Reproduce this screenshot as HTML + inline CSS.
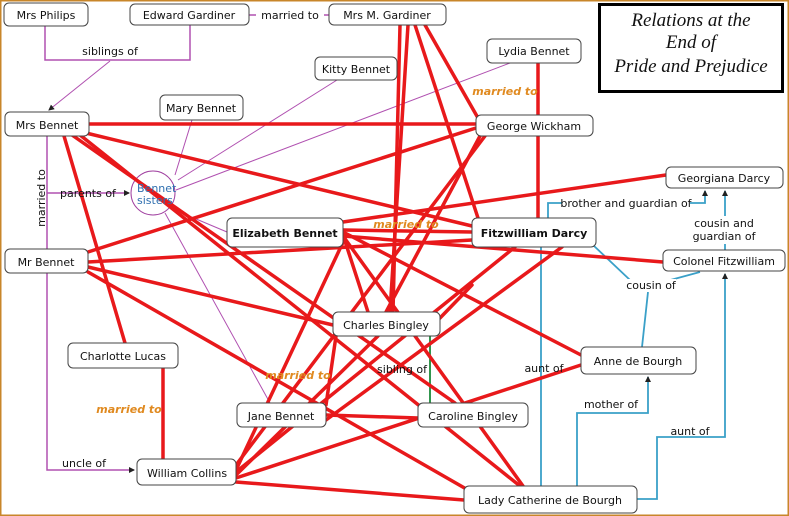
<!DOCTYPE html>
<html><head><meta charset="utf-8"><style>
body{margin:0;background:#fff}
svg{display:block}
text{font-family:"DejaVu Sans","Liberation Sans",sans-serif;font-size:11px;fill:#111}
.n{fill:#fff;stroke:#444;stroke-width:1}
.r{stroke:#e8191b;stroke-width:3.5;fill:none;stroke-linecap:round}
.p{stroke:#b050b0;stroke-width:1.5;fill:none}
.pt{stroke:#b050b0;stroke-width:1;fill:none}
.t{stroke:#3aa0c8;stroke-width:1.8;fill:none}
.m{font-weight:bold;font-style:italic;fill:#e08a20;font-size:11px}
</style></head><body>
<svg width="789" height="516" viewBox="0 0 789 516" xmlns="http://www.w3.org/2000/svg">
<defs>
<marker id="a" markerWidth="6" markerHeight="6" refX="5" refY="3" orient="auto" markerUnits="userSpaceOnUse"><path d="M0 0L6 3L0 6z" fill="#222"/></marker>
</defs>
<rect x="0.5" y="0.5" width="788" height="515" fill="#fff" stroke="#c8862a" stroke-width="2"/>
<!-- purple -->
<path class="p" d="M45 25V60H190V25"/>
<path class="pt" d="M110 61L49 110" marker-end="url(#a)"/>
<line class="p" x1="249" y1="15" x2="329" y2="15"/>
<path class="p" d="M47 136V249M47 273V470H134" marker-end="url(#a)"/>
<path class="p" d="M47 193H129" marker-end="url(#a)"/>
<path class="pt" d="M175 175L192 120M178 180L337 80M176 190L510 63M170 208L227 232M165 213L270 403"/>
<circle cx="153" cy="193" r="22" fill="none" stroke="#a040a0" stroke-width="1"/>
<!-- teal -->
<path class="t" d="M548 218V203H705V191" marker-end="url(#a)"/>
<path class="t" d="M725 250V191" marker-end="url(#a)"/>
<path class="t" d="M593 245L630 280M652 285L700 272M642 347L648 292M541 486V247"/>
<path class="t" d="M577 486V413H648V377" marker-end="url(#a)"/>
<path class="t" d="M637 499H657V437H725V274" marker-end="url(#a)"/>
<!-- green -->
<line x1="430" y1="336" x2="430" y2="403" stroke="#1a8a3a" stroke-width="1.8"/>
<!-- red -->
<g class="r">
<line x1="89" y1="124" x2="476" y2="124"/>
<line x1="86" y1="133" x2="472" y2="226"/>
<line x1="64" y1="136" x2="125" y2="343"/>
<line x1="72" y1="135" x2="455" y2="403"/>
<line x1="80" y1="135" x2="520" y2="486"/>
<line x1="88" y1="252" x2="476" y2="128"/>
<line x1="88" y1="262" x2="472" y2="240"/>
<line x1="88" y1="267" x2="333" y2="325"/>
<line x1="88" y1="272" x2="468" y2="490"/>
<line x1="343" y1="230" x2="472" y2="232"/>
<line x1="343" y1="222" x2="666" y2="175"/>
<line x1="343" y1="236" x2="663" y2="262"/>
<line x1="343" y1="235" x2="368" y2="312"/>
<line x1="343" y1="236" x2="523" y2="486"/>
<line x1="343" y1="232" x2="581" y2="355"/>
<line x1="345" y1="238" x2="236" y2="470"/>
<line x1="538" y1="63" x2="538" y2="115"/>
<line x1="538" y1="136" x2="538" y2="218"/>
<line x1="400" y1="25" x2="393" y2="312"/>
<line x1="408" y1="25" x2="390" y2="312"/>
<line x1="415" y1="25" x2="478" y2="218"/>
<line x1="425" y1="25" x2="478" y2="118"/>
<line x1="480" y1="136" x2="386" y2="312"/>
<line x1="485" y1="136" x2="236" y2="465"/>
<line x1="515" y1="247" x2="236" y2="472"/>
<line x1="562" y1="247" x2="326" y2="420"/>
<line x1="581" y1="365" x2="236" y2="478"/>
<line x1="236" y1="475" x2="378" y2="336"/>
<line x1="236" y1="482" x2="464" y2="500"/>
<line x1="326" y1="415" x2="418" y2="418"/>
<line x1="326" y1="405" x2="336" y2="336"/>
<line x1="163" y1="368" x2="163" y2="459"/>
<line x1="440" y1="318" x2="472" y2="285"/>
</g>
<!-- nodes -->
<g>
<rect class="n" x="4" y="3" width="84" height="23" rx="5"/><text x="46" y="19" text-anchor="middle">Mrs Philips</text>
<rect class="n" x="130" y="4" width="119" height="21" rx="5"/><text x="189" y="19" text-anchor="middle">Edward Gardiner</text>
<rect fill="#fff" x="256" y="9" width="68" height="12"/><text x="290" y="19" text-anchor="middle">married to</text>
<rect class="n" x="329" y="4" width="117" height="21" rx="5"/><text x="387" y="19" text-anchor="middle">Mrs M. Gardiner</text>
<rect class="n" x="315" y="57" width="82" height="23" rx="5"/><text x="356" y="73" text-anchor="middle">Kitty Bennet</text>
<rect class="n" x="487" y="39" width="94" height="24" rx="5"/><text x="534" y="55" text-anchor="middle">Lydia Bennet</text>
<rect class="n" x="160" y="95" width="83" height="25" rx="5"/><text x="201" y="112" text-anchor="middle">Mary Bennet</text>
<rect class="n" x="5" y="112" width="84" height="24" rx="5"/><text x="47" y="129" text-anchor="middle">Mrs Bennet</text>
<rect class="n" x="476" y="115" width="117" height="21" rx="5"/><text x="534" y="130" text-anchor="middle">George Wickham</text>
<rect class="n" x="666" y="167" width="117" height="21" rx="5"/><text x="724" y="182" text-anchor="middle">Georgiana Darcy</text>
<rect class="n" x="227" y="218" width="116" height="29" rx="5"/><text x="285" y="237" text-anchor="middle" font-weight="bold">Elizabeth Bennet</text>
<rect class="n" x="472" y="218" width="124" height="29" rx="5"/><text x="534" y="237" text-anchor="middle" font-weight="bold">Fitzwilliam Darcy</text>
<rect class="n" x="5" y="249" width="83" height="24" rx="5"/><text x="46" y="266" text-anchor="middle">Mr Bennet</text>
<rect class="n" x="663" y="250" width="122" height="21" rx="5"/><text x="724" y="265" text-anchor="middle">Colonel Fitzwilliam</text>
<rect class="n" x="333" y="312" width="107" height="24" rx="5"/><text x="386" y="329" text-anchor="middle">Charles Bingley</text>
<rect class="n" x="68" y="343" width="110" height="25" rx="5"/><text x="123" y="360" text-anchor="middle">Charlotte Lucas</text>
<rect class="n" x="581" y="347" width="115" height="27" rx="5"/><text x="638" y="365" text-anchor="middle">Anne de Bourgh</text>
<rect class="n" x="237" y="403" width="89" height="24" rx="5"/><text x="281" y="420" text-anchor="middle">Jane Bennet</text>
<rect class="n" x="418" y="403" width="110" height="24" rx="5"/><text x="473" y="420" text-anchor="middle">Caroline Bingley</text>
<rect class="n" x="137" y="459" width="99" height="26" rx="5"/><text x="187" y="477" text-anchor="middle">William Collins</text>
<rect class="n" x="464" y="486" width="173" height="27" rx="5"/><text x="550" y="504" text-anchor="middle">Lady Catherine de Bourgh</text>
</g>
<!-- labels -->
<text x="110" y="55" text-anchor="middle">siblings of</text>
<text x="88" y="197" text-anchor="middle">parents of</text>
<text x="45" y="198" text-anchor="middle" transform="rotate(-90 45 198)">married to</text>
<text x="137" y="192" font-size="10" style="fill:#3070b0">Bennet</text>
<text x="137" y="204" font-size="10" style="fill:#3070b0">sisters</text>
<text x="84" y="467" text-anchor="middle">uncle of</text>
<text x="402" y="373" text-anchor="middle">sibling of</text>
<text x="544" y="372" text-anchor="middle">aunt of</text>
<text x="611" y="408" text-anchor="middle">mother of</text>
<text x="690" y="435" text-anchor="middle">aunt of</text>
<rect fill="#fff" x="562" y="197" width="128" height="12"/>
<text x="626" y="207" text-anchor="middle">brother and guardian of</text>
<rect fill="#fff" x="690" y="216" width="70" height="28"/>
<text x="724" y="227" text-anchor="middle">cousin and</text>
<text x="724" y="240" text-anchor="middle">guardian of</text>
<rect fill="#fff" x="626" y="279" width="50" height="13"/>
<text x="651" y="289" text-anchor="middle">cousin of</text>
<text class="m" x="505" y="95" text-anchor="middle" style="fill:#e08a20">married to</text>
<text class="m" x="406" y="228" text-anchor="middle" style="fill:#e08a20">married to</text>
<text class="m" x="298" y="379" text-anchor="middle" style="fill:#e08a20">married to</text>
<text class="m" x="129" y="413" text-anchor="middle" style="fill:#e08a20">married to</text>
<!-- title -->
<rect x="599.5" y="4.5" width="183" height="87" fill="#fff" stroke="#000" stroke-width="3"/>
<text x="691" y="26" text-anchor="middle" style="font-family:'Liberation Serif',serif;font-style:italic;font-size:19px">Relations at the</text>
<text x="691" y="48" text-anchor="middle" style="font-family:'Liberation Serif',serif;font-style:italic;font-size:19px">End of</text>
<text x="691" y="72" text-anchor="middle" style="font-family:'Liberation Serif',serif;font-style:italic;font-size:19px">Pride and Prejudice</text>
</svg>
</body></html>
